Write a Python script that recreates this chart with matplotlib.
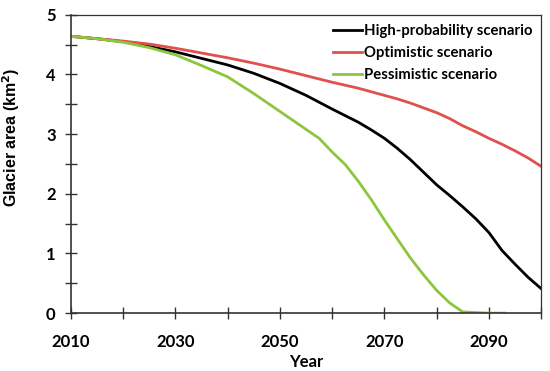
import matplotlib.pyplot as plt

plt.rcParams['font.family'] = ['Lato', 'DejaVu Sans']

# Glacier area projections (km2)
years = [2010, 2015, 2020, 2025, 2030, 2035, 2040, 2045, 2050, 2055,
         2060, 2062.5, 2065, 2067.5, 2070, 2072.5, 2075, 2077.5, 2080, 2082.5,
         2085, 2087.5, 2090, 2092.5, 2095, 2097.5, 2100]
high_prob = [4.64, 4.60, 4.55, 4.47, 4.38, 4.27, 4.16, 4.02, 3.85, 3.65,
             3.42, 3.31, 3.20, 3.07, 2.93, 2.76, 2.57, 2.36, 2.15, 1.97,
             1.78, 1.58, 1.35, 1.05, 0.82, 0.60, 0.41]
optimistic = [4.64, 4.60, 4.56, 4.51, 4.44, 4.36, 4.28, 4.19, 4.09, 3.98,
              3.87, 3.82, 3.77, 3.71, 3.65, 3.59, 3.52, 3.44, 3.36, 3.26,
              3.14, 3.04, 2.93, 2.83, 2.72, 2.60, 2.46]
pess_years = [2010, 2015, 2020, 2025, 2030, 2035, 2040, 2045, 2050, 2055,
              2057.5, 2060, 2062.5, 2065, 2067.5, 2070, 2072.5, 2075, 2077.5,
              2080, 2082.5, 2085, 2090, 2093]
pessimistic = [4.64, 4.60, 4.54, 4.45, 4.33, 4.15, 3.96, 3.68, 3.38, 3.08,
               2.93, 2.70, 2.49, 2.21, 1.90, 1.56, 1.24, 0.92, 0.64,
               0.38, 0.17, 0.02, 0.0, 0.0]

x_labels = [2010, 2030, 2050, 2070, 2090]

fig = plt.figure(figsize=(5.5, 3.71), dpi=100)
ax = fig.add_axes([0.129, 0.156, 0.855, 0.804])

ax.plot(years, high_prob, color='black', lw=2.0, label='High-probability scenario')
ax.plot(years, optimistic, color='#e0504d', lw=2.0, label='Optimistic scenario')
ax.plot(pess_years, pessimistic, color='#8cc63e', lw=2.0, label='Pessimistic scenario')

ax.set_xlim(2010, 2100)
ax.set_ylim(0, 5)
ax.set_xticks(x_labels)
ax.set_xticks(range(2020, 2101, 20), minor=True)
ax.set_yticks(range(0, 6))
ax.set_yticks([0.5, 1.5, 2.5, 3.5, 4.5], minor=True)
ax.tick_params(which='both', direction='inout', length=8, width=1, color='#333333',
               labelsize=12)
ax.tick_params(axis='x', pad=11)
ax.tick_params(axis='y', pad=7)
for lab in ax.get_xticklabels() + ax.get_yticklabels():
    lab.set_fontweight('bold')

for s in ['left', 'bottom']:
    ax.spines[s].set_color('#333333')
    ax.spines[s].set_linewidth(1.2)
for s in ['top', 'right']:
    ax.spines[s].set_color('#333333')
    ax.spines[s].set_linewidth(0.9)

ax.set_xlabel('Year', fontsize=12, fontweight='bold', labelpad=3)
ax.set_ylabel('Glacier area (km$^\\mathbf{2}$)', fontsize=11.5, fontweight='bold',
              family=['Liberation Sans', 'DejaVu Sans'])
ax.yaxis.set_label_coords(-0.105, 0.59)

leg = ax.legend(loc='upper right', frameon=False, fontsize=10.7, handlelength=2.0,
                handletextpad=0.1, labelspacing=0.55, borderaxespad=0.2)
for t in leg.get_texts():
    t.set_fontweight('bold')

plt.savefig('out.png', dpi=100)
